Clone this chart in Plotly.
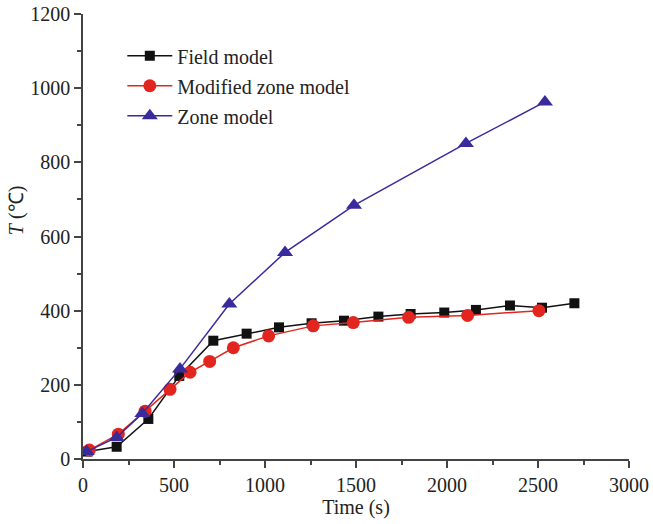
import plotly.graph_objects as go

field_x = [25, 185, 359, 529, 716, 899, 1077, 1256, 1434, 1623, 1800, 1985, 2159, 2346, 2522, 2700]
field_y = [20, 33, 108, 224, 319, 338, 355, 366, 373, 384, 391, 395, 402, 414, 408, 420]

mod_x = [35, 194, 341, 478, 588, 696, 826, 1020, 1265, 1485, 1789, 2113, 2505]
mod_y = [24, 67, 129, 188, 234, 263, 300, 332, 359, 368, 382, 387, 400]

zone_x = [20, 185, 326, 533, 804, 1110, 1489, 2104, 2538]
zone_y = [20, 58, 123, 243, 418, 557, 684, 851, 963]

x_ticks = [0, 500, 1000, 1500, 2000, 2500, 3000]
y_ticks = [0, 200, 400, 600, 800, 1000, 1200]

FONT = "Liberation Serif, Times New Roman, serif"

fig = go.Figure()
fig.add_trace(go.Scatter(x=field_x, y=field_y, mode="lines+markers", name="Field model",
                         legendgroup="a",
                         line=dict(color="#111111", width=1.5),
                         marker=dict(symbol="square", size=10, color="#111111")))
fig.add_trace(go.Scatter(x=mod_x, y=mod_y, mode="lines+markers", name="Modified zone model",
                         legendgroup="b",
                         line=dict(color="#e2261f", width=1.5),
                         marker=dict(symbol="circle", size=13, color="#e2261f")))
fig.add_trace(go.Scatter(x=zone_x, y=zone_y, mode="lines+markers", name="Zone model",
                         legendgroup="c",
                         line=dict(color="#3a2b9c", width=1.5),
                         marker=dict(symbol="triangle-up", size=14, color="#3a2b9c")))

fig.update_layout(
    width=653, height=524,
    margin=dict(l=83, r=24, t=14, b=65),
    paper_bgcolor="white", plot_bgcolor="white",
    font=dict(family=FONT, size=20, color="#222222"),
    showlegend=True,
    legend=dict(x=0.072, y=0.950, xanchor="left", yanchor="top",
                bgcolor="rgba(0,0,0,0)", font=dict(family=FONT, size=20),
                traceorder="grouped", tracegroupgap=1, itemwidth=45),
    xaxis=dict(range=[0, 3000], tickvals=x_ticks, ticktext=[str(v) for v in x_ticks],
               automargin=False,
               showgrid=False, zeroline=False, showline=True, linecolor="#444444", linewidth=1.5,
               ticks="outside", ticklen=7, tickwidth=1.5, tickcolor="#444444",
               tickfont=dict(family=FONT, size=20),
               minor=dict(tickvals=[250, 750, 1250, 1750, 2250, 2750], ticks="outside", ticklen=4,
                          tickwidth=1.5, tickcolor="#444444"),
               title=dict(text="Time (s)", font=dict(family=FONT, size=20), standoff=2)),
    yaxis=dict(range=[0, 1200], tickvals=y_ticks, ticktext=[str(v) for v in y_ticks],
               automargin=False,
               showgrid=False, zeroline=False, showline=True, linecolor="#444444", linewidth=1.5,
               ticks="outside", ticklen=7, tickwidth=1.5, tickcolor="#444444",
               tickfont=dict(family=FONT, size=20),
               minor=dict(tickvals=[100, 300, 500, 700, 900, 1100], ticks="outside", ticklen=4,
                          tickwidth=1.5, tickcolor="#444444")),
    annotations=[dict(text="<i>T</i> (\u2103)", xref="paper", yref="paper",
                      x=-0.1227, y=0.557, xanchor="center", yanchor="middle",
                      textangle=-90, showarrow=False,
                      font=dict(family=FONT, size=20, color="#222222"))],
)

fig.write_html("out.html")
